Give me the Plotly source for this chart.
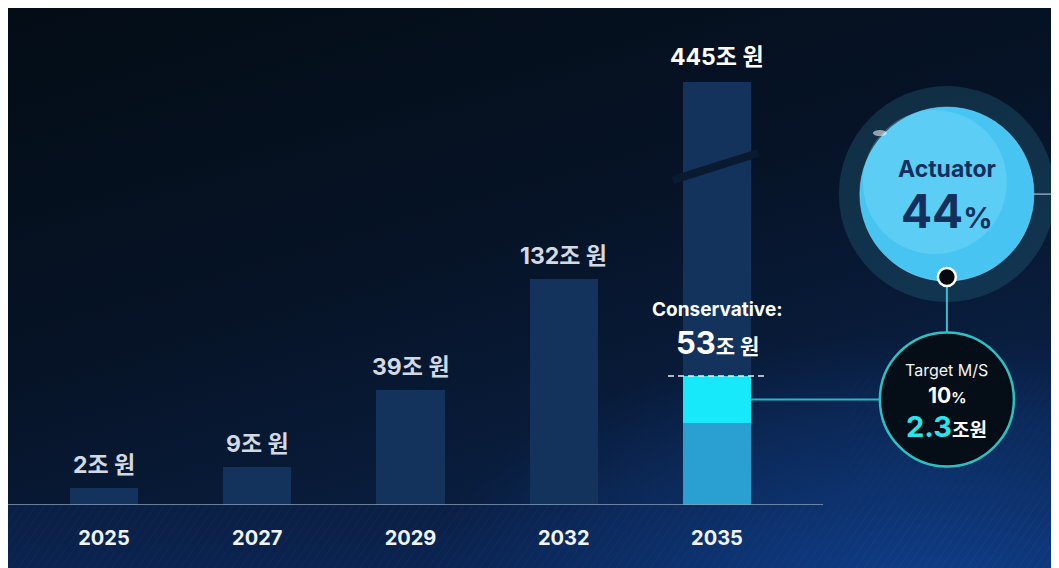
import base64
import plotly.graph_objects as go

# ---------------- data ----------------
years = ["2025", "2027", "2029", "2032", "2035"]
market_trillion_won = [2, 9, 39, 132, 445]
# illustrative drawn bar heights (percent of the tallest, broken 2035 bar)
drawn_height = [4.0, 9.0, 27.2, 53.4, 100.0]
conservative_2035 = 53
# 2035 conservative split (drawn heights): [base part, highlighted actuator part]
conservative_parts = [19.4, 11.1]
actuator_share_pct = 44
target_ms_pct = 10
target_value_trillion = 2.3

# ---------------- geometry helpers ----------------
W, H = 1051, 560
M_BOTTOM = 63
PLOT_H = H - M_BOTTOM
PX_Y = 4.23                      # pixels per y unit
Y_TOP = PLOT_H / PX_Y
PX_X = 153.25                    # pixels per category step
X_LEFT = -96 / PX_X
X_RANGE = [X_LEFT, X_LEFT + W / PX_X]
BAR_W = 0.444
LAST = len(years) - 1

FONT = "Inter, 'Noto Sans CJK KR', sans-serif"

# ---------------- background (decorative gradient + hatch) ----------------
svg = f"""<svg xmlns='http://www.w3.org/2000/svg' width='{W}' height='{H}' viewBox='0 0 {W} {H}' preserveAspectRatio='none'>
<defs>
<linearGradient id='g' x1='0' y1='0' x2='0.55' y2='1'>
<stop offset='0' stop-color='#040d16'/>
<stop offset='0.5' stop-color='#061326'/>
<stop offset='1' stop-color='#0a2147'/>
</linearGradient>
<radialGradient id='r' cx='0.88' cy='1.08' r='0.5'>
<stop offset='0' stop-color='#104394' stop-opacity='0.9'/>
<stop offset='1' stop-color='#104394' stop-opacity='0'/>
</radialGradient>
<linearGradient id='b' x1='0' y1='0' x2='0' y2='1'>
<stop offset='0' stop-color='#0a1f44'/>
<stop offset='1' stop-color='#0a2350'/>
</linearGradient>
<pattern id='h' width='7' height='7' patternUnits='userSpaceOnUse' patternTransform='rotate(35)'>
<line x1='0' y1='0' x2='0' y2='7' stroke='#3a64a8' stroke-width='1'/>
</pattern>
</defs>
<rect width='{W}' height='{H}' fill='url(#g)'/>
<rect y='{PLOT_H}' width='{W}' height='{M_BOTTOM}' fill='url(#b)'/>
<rect width='{W}' height='{H}' fill='url(#r)'/>
<rect y='{PLOT_H}' width='{W}' height='{M_BOTTOM}' fill='url(#h)' opacity='0.16'/>
<rect x='{W-210}' y='{H-190}' width='210' height='190' fill='url(#h)' opacity='0.10'/>
</svg>"""
svg_uri = "data:image/svg+xml;base64," + base64.b64encode(svg.encode()).decode()

fig = go.Figure()

# main bars
fig.add_trace(go.Bar(
    x=years, y=drawn_height, width=BAR_W,
    marker=dict(color="#13325c", line=dict(width=0)),
    hoverinfo="skip", showlegend=False,
))
# conservative 2035 stack
fig.add_trace(go.Bar(
    x=[years[LAST]], y=[conservative_parts[0]], base=[0], width=BAR_W,
    marker=dict(color="#2a9fd2", line=dict(width=0)),
    hoverinfo="skip", showlegend=False,
))
fig.add_trace(go.Bar(
    x=[years[LAST]], y=[conservative_parts[1]], base=[conservative_parts[0]], width=BAR_W,
    marker=dict(color="#17e9fb", line=dict(width=0)),
    hoverinfo="skip", showlegend=False,
))

shapes = []
annotations = []

# baseline
shapes.append(dict(type="line", xref="x", yref="y", x0=X_RANGE[0], x1=LAST + 106 / PX_X,
                   y0=0, y1=0, line=dict(color="#8a9fbd", width=1.6)))

# break slash on the 2035 bar
shapes.append(dict(type="line", xref="x", yref="y",
                   x0=LAST - 0.29, x1=LAST + 0.27, y0=drawn_height[LAST] * 0.768, y1=drawn_height[LAST] * 0.832,
                   line=dict(color="#0a1a31", width=8)))

# dashed top line of conservative
cons_top = sum(conservative_parts)
shapes.append(dict(type="line", xref="x", yref="y", x0=LAST - 0.32, x1=LAST + 0.32,
                   y0=cons_top, y1=cons_top, line=dict(color="#e8eef5", width=1.4, dash="6px,4px")))

# value labels above bars
for i, (v, h) in enumerate(zip(market_trillion_won, drawn_height)):
    color = "#ffffff" if i == LAST else "#d3d9e2"
    annotations.append(dict(x=i, y=h, xref="x", yref="y", yanchor="bottom", yshift=7 if i < LAST else 9,
                            text=f"<b>{v}조 원</b>", showarrow=False,
                            font=dict(family=FONT, size=23, color=color)))

annotations.append(dict(x=LAST, y=cons_top, xref="x", yref="y", yanchor="middle", yshift=66,
                        text="<b>Conservative:</b>", showarrow=False,
                        font=dict(family=FONT, size=19, color="#ffffff")))
annotations.append(dict(x=LAST, y=cons_top, xref="x", yref="y", yanchor="middle", yshift=33,
                        text=f"<b><span style='font-size:31px'>{conservative_2035}</span>조 원</b>",
                        showarrow=False, font=dict(family=FONT, size=21, color="#ffffff")))

# big circle (actuator share)
BX, BY = 5.5, 73.5
shapes.append(dict(type="circle", xref="x", yref="y", xsizemode="pixel", ysizemode="pixel",
                   xanchor=BX, yanchor=BY, x0=-108, x1=108, y0=-108, y1=108,
                   fillcolor="rgba(35,95,120,0.38)", line=dict(width=0)))
shapes.append(dict(type="circle", xref="x", yref="y", xsizemode="pixel", ysizemode="pixel",
                   xanchor=BX, yanchor=BY, x0=-87, x1=87, y0=-87, y1=87,
                   fillcolor="#48c4f2", line=dict(color="rgba(120,220,250,0.6)", width=1)))
shapes.append(dict(type="circle", xref="x", yref="y", xsizemode="pixel", ysizemode="pixel",
                   xanchor=BX, yanchor=BY, x0=-84, x1=60, y0=-60, y1=84,
                   fillcolor="rgba(150,230,252,0.25)", line=dict(width=0)))
# small glint at the upper-left rim
shapes.append(dict(type="circle", xref="x", yref="y", xsizemode="pixel", ysizemode="pixel",
                   xanchor=BX, yanchor=BY, x0=-74, x1=-60, y0=58, y1=64,
                   fillcolor="rgba(255,255,255,0.55)", line=dict(width=0)))
# line to the right edge
shapes.append(dict(type="line", xref="x", yref="y", x0=BX + 87 / PX_X, x1=X_RANGE[1],
                   y0=BY, y1=BY, line=dict(color="#a9bdd0", width=1.2)))

# connector dot at bottom of the big circle
DOT_Y = BY - 83 / PX_Y
SX, SY = 5.5, conservative_parts[0] + conservative_parts[1] / 2
SR = 67
shapes.append(dict(type="line", xref="x", yref="y", x0=SX, x1=SX,
                   y0=SY + SR / PX_Y, y1=DOT_Y, line=dict(color="#2ec3d2", width=2)))
shapes.append(dict(type="circle", xref="x", yref="y", xsizemode="pixel", ysizemode="pixel",
                   xanchor=BX, yanchor=DOT_Y, x0=-9, x1=9, y0=-9, y1=9,
                   fillcolor="#05090f", line=dict(color="#ffffff", width=2.5)))

# horizontal connector from the highlighted segment to the small circle
shapes.append(dict(type="line", xref="x", yref="y", x0=LAST + BAR_W / 2, x1=SX - SR / PX_X,
                   y0=SY, y1=SY, line=dict(color="#27b8c6", width=2)))
# small circle (target)
shapes.append(dict(type="circle", xref="x", yref="y", xsizemode="pixel", ysizemode="pixel",
                   xanchor=SX, yanchor=SY, x0=-SR, x1=SR, y0=-SR, y1=SR,
                   fillcolor="#050d16", line=dict(color="#2cc2c2", width=2.5)))

annotations += [
    dict(x=BX, y=BY, xref="x", yref="y", yanchor="bottom", yshift=9, showarrow=False,
         text="<b>Actuator</b>", font=dict(family=FONT, size=23, color="#13305c")),
    dict(x=BX, y=BY, xref="x", yref="y", yanchor="top", yshift=13, showarrow=False,
         text=f"<b>{actuator_share_pct}<span style='font-size:29px'>%</span></b>",
         font=dict(family=FONT, size=46, color="#13305c")),
    dict(x=SX, y=SY, xref="x", yref="y", yanchor="bottom", yshift=17, showarrow=False,
         text="Target M/S", font=dict(family=FONT, size=16, color="#f2f5f8")),
    dict(x=SX, y=SY, xref="x", yref="y", yanchor="middle", yshift=4, showarrow=False,
         text=f"<b>{target_ms_pct}<span style='font-size:15px'>%</span></b>",
         font=dict(family=FONT, size=21, color="#ffffff")),
    dict(x=SX, y=SY, xref="x", yref="y", yanchor="top", yshift=-8, showarrow=False,
         text=(f"<b><span style='color:#2be3ea'>{target_value_trillion}</span>"
               f"<span style='font-size:19px'>조원</span></b>"),
         font=dict(family=FONT, size=29, color="#ffffff")),
]

fig.update_layout(
    width=W, height=H,
    margin=dict(l=0, r=0, t=0, b=M_BOTTOM, pad=0),
    paper_bgcolor="#061427",
    plot_bgcolor="rgba(0,0,0,0)",
    barmode="overlay",
    bargap=0,
    showlegend=False,
    xaxis=dict(type="category", range=X_RANGE, showgrid=False, zeroline=False, showline=False,
               ticks="outside", ticklen=15, tickcolor="rgba(0,0,0,0)",
               tickfont=dict(family=FONT, size=20, color="#f0f3f7"),
               tickvals=years, ticktext=[f"<b>{y}</b>" for y in years], fixedrange=True),
    yaxis=dict(range=[0, Y_TOP], showgrid=False, zeroline=False, showline=False,
               showticklabels=False, ticks="", fixedrange=True),
    shapes=shapes,
    annotations=annotations,
    images=[dict(source=svg_uri, xref="paper", yref="paper", x=0, y=1,
                 sizex=1, sizey=H / PLOT_H, sizing="stretch", xanchor="left", yanchor="top",
                 layer="below")],
)

fig.write_html("out.html", config={"displayModeBar": False})
